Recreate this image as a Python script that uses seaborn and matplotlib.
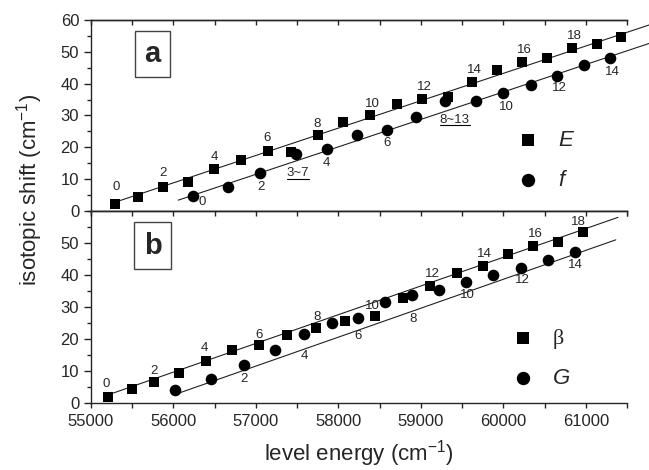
import numpy as np
import matplotlib
matplotlib.use("Agg")
import matplotlib.pyplot as plt
import seaborn as sns
from matplotlib.ticker import MultipleLocator, FixedLocator
from matplotlib.lines import Line2D
from matplotlib.transforms import IdentityTransform

# ---------------- data ----------------
E_energy = [55291, 55566, 55877, 56172, 56491, 56818, 57141, 57420, 57747, 58060,
            58382, 58705, 59016, 59331, 59622, 59925, 60232, 60535, 60834, 61137, 61432]
E_shift = [2.1, 4.4, 7.4, 9.1, 13.1, 15.9, 18.9, 18.6, 24.0, 27.8,
           30.1, 33.5, 35.1, 35.7, 40.6, 44.3, 46.9, 47.9, 51.1, 52.3, 54.7]

f_energy = [56240, 56657, 57048, 57485, 57857, 58220, 58594, 58945, 59290, 59667,
            59998, 60330, 60657, 60980, 61291]
f_shift = [4.6, 7.5, 12.0, 17.8, 19.4, 23.8, 25.4, 29.4, 34.6, 34.6,
           37.2, 39.5, 42.4, 45.8, 48.2]

beta_energy = [55210, 55500, 55767, 56070, 56390, 56705, 57036, 57380, 57727, 58083,
               58442, 58786, 59109, 59433, 59748, 60058, 60361, 60664, 60967]
beta_shift = [2.1, 4.5, 6.8, 9.5, 13.3, 16.5, 18.3, 21.4, 23.4, 25.7,
              27.3, 32.8, 36.5, 40.5, 42.9, 46.6, 49.2, 50.3, 53.3]

G_energy = [56018, 56455, 56858, 57230, 57582, 57918, 58233, 58564, 58887, 59218,
            59545, 59876, 60212, 60543, 60867]
G_shift = [4.2, 7.7, 11.9, 16.5, 21.5, 25.2, 26.6, 31.6, 33.7, 35.5,
           37.7, 40.1, 42.1, 44.7, 47.1]

# straight fit lines as drawn in the reference (start / end)
fit_E_energy = [55250, 61800]
fit_E_shift = [2.4, 58.7]
fit_f_energy = [56058, 61800]
fit_f_shift = [3.4, 52.9]
fit_beta_energy = [55270, 61390]
fit_beta_shift = [3.2, 58.0]
fit_G_energy = [56079, 61364]
fit_G_shift = [3.3, 51.0]

# level-number labels (index of the point they belong to)
E_label_idx = [0, 2, 4, 6, 8, 10, 12, 14, 16, 18]
f_label_idx = [0, 2, 4, 6, 10, 12, 14]
beta_label_idx = [0, 2, 4, 6, 8, 10, 12, 14, 16, 18]
G_label_idx = [2, 4, 6, 8, 10, 12, 14]
f_group_labels = ["3~7", "8~13"]
f_group_idx = [3, 8]

x_ticks = [55000, 56000, 57000, 58000, 59000, 60000, 61000]
y_ticks_a = [0, 10, 20, 30, 40, 50, 60]
y_ticks_b = [0, 10, 20, 30, 40, 50]

# ---------------- style ----------------
sns.set_style("ticks")
plt.rcParams["font.family"] = ["Liberation Sans", "DejaVu Sans"]
plt.rcParams["mathtext.fontset"] = "custom"
plt.rcParams["mathtext.rm"] = "Liberation Sans"
plt.rcParams["mathtext.it"] = "Liberation Sans:italic"
plt.rcParams["axes.linewidth"] = 1.0

fig = plt.figure(figsize=(6.49, 4.70), dpi=100)
axA = fig.add_axes([0.1402, 0.5511, 0.8259, 0.4064])
axB = fig.add_axes([0.1402, 0.1419, 0.8259, 0.4092])

# offsets in pixels for the annotations
E_off = [(1, 17), (0, 14), (0, 12), (0, 13), (0, 11), (3, 11), (2, 12), (2, 12), (2, 12), (2, 12)]
f_off = [(9, -6), (1, -14), (0, -14), (0, -13), (3, -14), (2, -12), (3, -14)]
fg_off = [(2, -19), (10, -19)]
beta_off = [(-2, 13), (0, 11), (-1, 13), (0, 10), (1, 11), (-2, 10), (3, 12), (2, 12), (2, 12), (-5, 10)]
G_off = [(0, -14), (0, -22), (0, -18), (2, -24), (2, -13), (2, -12), (1, -13)]

SQ = 50
CI = 70


def setup_axis(ax, yticks, show_xlabels):
    ax.set_xlim(55000, 61500)
    ax.set_ylim(0, 60)
    ax.spines["right"].set_visible(False)
    ax.xaxis.set_major_locator(FixedLocator(x_ticks))
    ax.xaxis.set_minor_locator(MultipleLocator(500))
    ax.yaxis.set_major_locator(FixedLocator(yticks))
    ax.yaxis.set_minor_locator(MultipleLocator(5))
    ax.tick_params(axis="x", which="both", direction="out", length=3.6, width=1.0,
                   top=False, labelbottom=show_xlabels, labelsize=12, pad=4)
    ax.tick_params(axis="y", which="major", direction="out", length=5, width=1.0,
                   right=False, labelsize=12, pad=3.5)
    ax.tick_params(axis="y", which="minor", direction="out", length=2.8, width=1.0, right=False)
    ax.set_xlabel("")
    ax.set_ylabel("")
    sec = ax.secondary_xaxis("top")
    sec.xaxis.set_major_locator(FixedLocator(x_ticks))
    sec.xaxis.set_minor_locator(MultipleLocator(500))
    sec.tick_params(axis="x", which="both", direction="in", length=3.6, width=1.0, labeltop=False)
    sec.spines["top"].set_linewidth(1.0)


def fit_line(ax, xs, ys, clip):
    sns.lineplot(x=xs, y=ys, ax=ax, color="#222222", lw=0.8,
                 clip_on=clip, legend=False, zorder=1)


def annotate(ax, xs, ys, idx, offs, texts=None):
    out = []
    for k, (i, o) in enumerate(zip(idx, offs)):
        t = str(i) if texts is None else texts[k]
        out.append(ax.annotate(t, xy=(xs[i], ys[i]), xytext=o, textcoords="offset pixels",
                               ha="center", va="center", fontsize=9.5, zorder=5))
    return out


# ---------------- panel a ----------------
fit_line(axA, fit_E_energy, fit_E_shift, False)
fit_line(axA, fit_f_energy, fit_f_shift, False)
sns.scatterplot(x=E_energy, y=E_shift, ax=axA, marker="s", s=SQ, color="black",
                linewidth=0, label="E", zorder=3)
sns.scatterplot(x=f_energy, y=f_shift, ax=axA, marker="o", s=CI, color="black",
                linewidth=0, label="f", zorder=3)
annotate(axA, E_energy, E_shift, E_label_idx, E_off)
annotate(axA, f_energy, f_shift, f_label_idx, f_off)
group_texts = annotate(axA, f_energy, f_shift, f_group_idx, fg_off, f_group_labels)
setup_axis(axA, y_ticks_a, False)

# ---------------- panel b ----------------
fit_line(axB, fit_beta_energy, fit_beta_shift, True)
fit_line(axB, fit_G_energy, fit_G_shift, True)
sns.scatterplot(x=beta_energy, y=beta_shift, ax=axB, marker="s", s=SQ, color="black",
                linewidth=0, label="β", zorder=3)
sns.scatterplot(x=G_energy, y=G_shift, ax=axB, marker="o", s=CI, color="black",
                linewidth=0, label="G", zorder=3)
annotate(axB, beta_energy, beta_shift, beta_label_idx, beta_off)
annotate(axB, G_energy, G_shift, G_label_idx, G_off)
setup_axis(axB, y_ticks_b, True)

# legends
for ax, anchor, serif_first in [(axA, (0.799, 0.264), False), (axB, (0.789, 0.232), True)]:
    leg = ax.legend(loc="center left", bbox_to_anchor=anchor, frameon=False,
                    fontsize=16, handlelength=0.8, handletextpad=0.95,
                    labelspacing=0.85, borderpad=0, borderaxespad=0, markerscale=1.15)
    for j, t in enumerate(leg.get_texts()):
        if serif_first and j == 0:
            t.set_fontfamily(["Liberation Serif", "DejaVu Serif"])
        else:
            t.set_fontstyle("italic")

# panel letters
for ax, letter, pos in [(axA, "a", (0.115, 0.822)), (axB, "b", (0.115, 0.819))]:
    ax.text(pos[0], pos[1], letter, transform=ax.transAxes, fontsize=21,
            fontweight="bold", ha="center", va="center", zorder=6,
            bbox=dict(boxstyle="square,pad=0.32", fc="white", ec="#444444", lw=1.0))

# axis titles
fig.text(0.045, 0.596, "isotopic shift (cm$^{-1}$)", rotation=90,
         ha="center", va="center", fontsize=16)
fig.text(0.553, 0.034, "level energy (cm$^{-1}$)", ha="center", va="center", fontsize=16)

# underline the grouped labels
fig.canvas.draw()
renderer = fig.canvas.get_renderer()
for t in group_texts:
    bb = t.get_window_extent(renderer)
    fig.add_artist(Line2D([bb.x0, bb.x1], [bb.y0 + 0.5, bb.y0 + 0.5], transform=IdentityTransform(),
                          color="black", lw=0.8))

fig.savefig("out.png", dpi=100)
